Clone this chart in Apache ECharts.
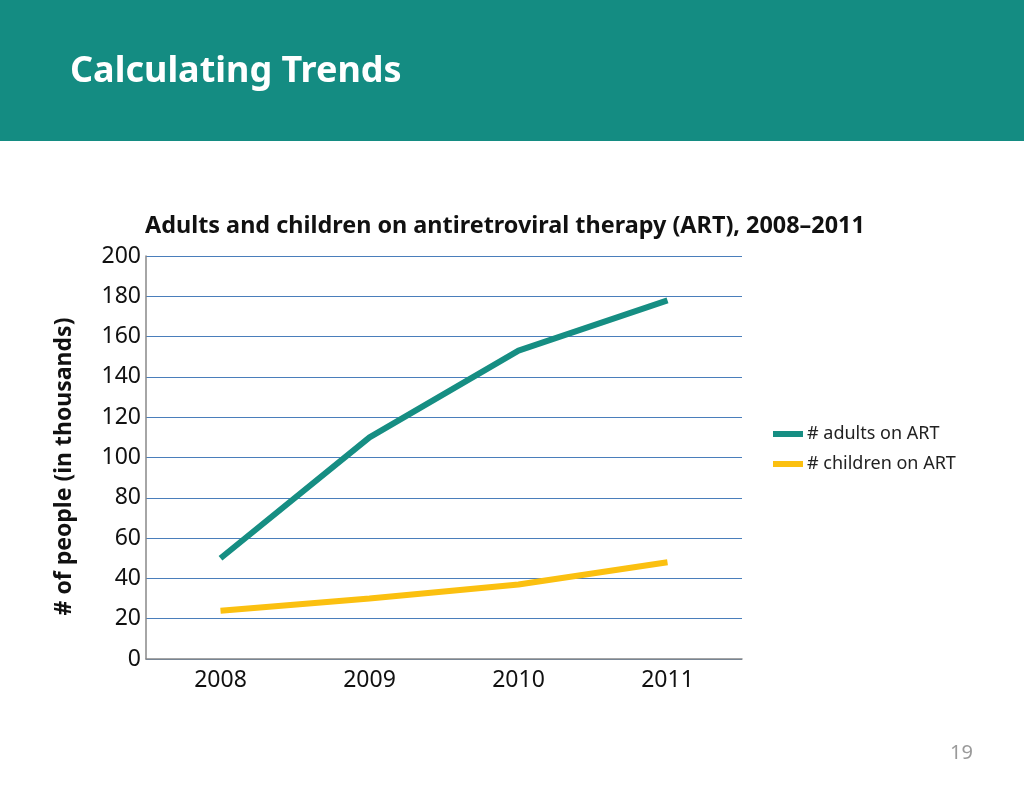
<!DOCTYPE html>
<html>
<head>
<meta charset="utf-8">
<title>Calculating Trends</title>
<script src="https://cdn.jsdelivr.net/npm/echarts@6/dist/echarts.min.js"></script>
<style>
  html, body { margin: 0; padding: 0; background: #fff; }
  #chart { width: 1024px; height: 791px; }
</style>
</head>
<body>
<div id="chart"></div>
<script>
var years = ['2008', '2009', '2010', '2011'];
var adults = [50, 110, 153, 178];
var children = [24, 30, 37, 48];
var seriesNames = ['# adults on ART', '# children on ART'];

var teal = '#168E83';
var yellow = '#FBC010';
var font = '"Noto Sans", "Open Sans", sans-serif';

var myChart = echarts.init(document.getElementById('chart'));

var option = {
    animation: false,
    textStyle: { fontFamily: font },
    graphic: [
        {
            type: 'rect',
            shape: { x: 0, y: 0, width: 1024, height: 141 },
            style: { fill: '#148C82' },
            silent: true
        },
        {
            type: 'text',
            left: 70,
            top: 54,
            style: { text: 'Calculating Trends', fill: '#fff', font: 'bold 36px ' + font }
        },
        {
            type: 'text',
            left: 950,
            top: 743,
            style: { text: '19', fill: '#9a9a9a', font: '20px ' + font }
        }
    ],
    title: {
        text: 'Adults and children on antiretroviral therapy (ART), 2008\u20132011',
        left: 140,
        top: 210,
        textStyle: { fontFamily: font, fontWeight: 'bold', fontSize: 23.4, color: '#111' }
    },
    legend: {
        orient: 'vertical',
        left: 768,
        top: 420,
        itemWidth: 30,
        itemHeight: 6,
        itemGap: 12,
        icon: 'rect',
        data: seriesNames,
        textStyle: { fontFamily: font, fontSize: 18, color: '#222', padding: [0, 0, 0, -1] }
    },
    grid: {
        left: 146,
        right: 282,
        top: 256,
        bottom: 132,
        containLabel: false
    },
    xAxis: {
        type: 'category',
        data: years,
        boundaryGap: true,
        axisLine: { lineStyle: { color: '#888', width: 1.5 } },
        axisTick: { show: false },
        axisLabel: { fontSize: 23, color: '#111', margin: 10, fontFamily: font }
    },
    yAxis: {
        type: 'value',
        min: 0,
        max: 200,
        interval: 20,
        name: '# of people (in thousands)',
        nameLocation: 'middle',
        nameGap: 70,
        nameTextStyle: { fontSize: 23, fontWeight: 'bold', color: '#111', fontFamily: font, padding: [0, 18, 0, 0] },
        axisLine: { show: true, lineStyle: { color: '#888', width: 1.5 } },
        axisTick: { show: false },
        axisLabel: { fontSize: 23, color: '#111', margin: 5, fontFamily: font },
        splitLine: { lineStyle: { color: '#4A7EBB', width: 1 } }
    },
    series: [
        {
            name: seriesNames[0],
            type: 'line',
            data: adults,
            symbol: 'none',
            itemStyle: { color: teal },
            lineStyle: { color: teal, width: 6 }
        },
        {
            name: seriesNames[1],
            type: 'line',
            data: children,
            symbol: 'none',
            itemStyle: { color: yellow },
            lineStyle: { color: yellow, width: 6 }
        }
    ]
};

myChart.setOption(option);
</script>
</body>
</html>
